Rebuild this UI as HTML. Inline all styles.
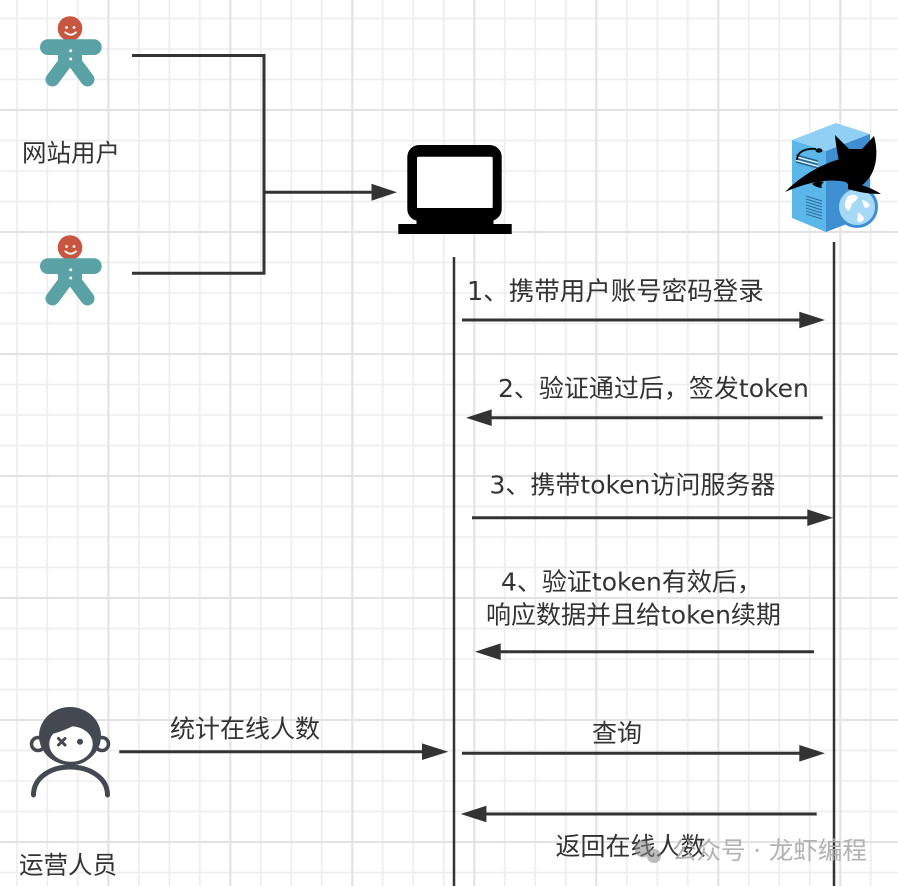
<!DOCTYPE html>
<html><head><meta charset="utf-8">
<style>
html,body{margin:0;padding:0;background:#fff;}
svg{display:block;}
text{font-family:"DejaVu Sans","Noto Sans CJK SC",sans-serif;fill:#333;}
</style></head>
<body>
<svg width="898" height="886" viewBox="0 0 898 886" xmlns="http://www.w3.org/2000/svg">
<defs>
<pattern id="gmin" patternUnits="userSpaceOnUse" x="93.05" y="94.75" width="30.5" height="30.5">
<line x1="15.25" y1="0" x2="15.25" y2="30.5" stroke="#eeeeee" stroke-width="1.8"/>
<line x1="0" y1="15.25" x2="30.5" y2="15.25" stroke="#eeeeee" stroke-width="1.8"/>
</pattern>
<pattern id="gmaj" patternUnits="userSpaceOnUse" x="47.3" y="49" width="122" height="122">
<line x1="61" y1="0" x2="61" y2="122" stroke="#e2e2e2" stroke-width="2"/>
<line x1="0" y1="61" x2="122" y2="61" stroke="#e2e2e2" stroke-width="2"/>
</pattern>
</defs>
<rect width="898" height="886" fill="#fff"/>
<rect width="898" height="886" fill="url(#gmin)"/>
<rect width="898" height="886" fill="url(#gmaj)"/>

<!-- gingerbread users -->
<g id="ginger">
<circle cx="70" cy="28.5" r="12.3" fill="#c8553f"/>
<circle cx="66.5" cy="27.5" r="1.4" fill="#fff"/>
<circle cx="74" cy="27.5" r="1.4" fill="#fff"/>
<path d="M65.3,32.3 Q70.5,37 76,32.3" stroke="#fff" stroke-width="1.8" fill="none" stroke-linecap="round"/>
<rect x="40" y="39.3" width="61.7" height="15.7" rx="7.8" fill="#5ba2a6"/>
<rect x="58" y="44" width="24" height="20" fill="#5ba2a6"/>
<g stroke="#5ba2a6" stroke-width="14" stroke-linecap="round">
<line x1="67" y1="60" x2="52.5" y2="79.5"/>
<line x1="73" y1="60" x2="87.5" y2="79.5"/>
</g>
<circle cx="70.7" cy="50.7" r="1.5" fill="#fff"/>
<circle cx="70.7" cy="59" r="1.5" fill="#fff"/>
</g>
<use href="#ginger" transform="translate(0,219)"/>
<text x="22" y="161.5" font-size="24.5">网站用户</text>

<!-- bracket connector -->
<polyline points="132,55.5 264,55.5 264,273.3 132,273.3" fill="none" stroke="#333" stroke-width="3"/>
<line x1="264" y1="192.3" x2="374" y2="192.3" stroke="#333" stroke-width="3"/>
<polygon points="397,192.3 371.5,183.8 371.5,200.8" fill="#333"/>

<!-- laptop -->
<rect x="407.3" y="145" width="94.4" height="76" rx="12" fill="#000"/>
<rect x="417" y="156.7" width="75.7" height="51.6" rx="1.5" fill="#fff"/>
<rect x="416.5" y="208" width="77" height="17" fill="#000"/>
<rect x="398.3" y="224" width="113.4" height="10" fill="#000"/>

<!-- server icon -->
<polygon points="792,140 836,123 870,134 826,151" fill="#8fd0f4"/>
<polygon points="792,140 826,151 826,232 792,218" fill="#5bb6ea"/>
<polygon points="826,151 870,134 870,215 826,232" fill="#3e8fd2"/>
<g stroke="#2f6f9e" stroke-width="1.1">
<line x1="806" y1="196" x2="822" y2="201"/>
<line x1="806" y1="199" x2="822" y2="204"/>
<line x1="806" y1="202" x2="822" y2="207"/>
<line x1="806" y1="205" x2="822" y2="210"/>
<line x1="806" y1="208" x2="822" y2="213"/>
<line x1="806" y1="211" x2="822" y2="216"/>
<line x1="806" y1="214" x2="822" y2="219"/>
</g>
<g stroke="#2a5a7e" stroke-width="1.3">
<line x1="796" y1="155" x2="818" y2="161"/>
<line x1="796" y1="158.5" x2="818" y2="164.5"/>
<line x1="796" y1="162" x2="818" y2="168"/>
</g>
<g stroke="#ffffff" stroke-width="1">
<line x1="796" y1="156.8" x2="818" y2="162.8"/>
<line x1="796" y1="160.3" x2="818" y2="166.3"/>
</g>
<path d="M797,160 C797,152 805,148 816,149" stroke="#111" stroke-width="2" fill="none"/>
<ellipse cx="819" cy="150.5" rx="3.5" ry="2.2" fill="#111"/>
<circle cx="857" cy="207" r="19.5" fill="#a5d9f6" stroke="#3e8fd2" stroke-width="3"/>
<path d="M848,196 q6,-3 10,1 q-2,5 -6,6 q-1,6 -4,8 q-4,-4 -3,-9 z" fill="#fff"/>
<path d="M862,200 q6,1 8,6 q-3,3 -6,1 z" fill="#fff"/>
<path d="M858,213 q5,1 6,6 q-3,5 -7,2 z" fill="#fff"/>
<!-- cat -->
<path d="M835,135 L849,149 L862,149 L874,136 C878,150 877,165 871,175 C866,183 860,188 855,188 C848,186 843,180 841,172 C839,160 836,148 835,135 Z" fill="#000"/>
<path d="M785,192 C798,179 816,166 840,159 L846,182 C828,178 808,182 785,192 Z" fill="#000"/>
<path d="M848,181 C862,185 872,188 881,194 C868,194 858,192 848,189 Z" fill="#000"/>
<path d="M812,184 q6,-4 12,-2 q-4,3 -2,6 q-5,0 -10,-4 z" fill="#000"/>

<!-- lifelines -->
<line x1="454" y1="257" x2="454" y2="886" stroke="#333" stroke-width="2.5"/>
<line x1="834" y1="242" x2="834" y2="886" stroke="#333" stroke-width="2.5"/>

<!-- messages -->
<text x="467" y="300" font-size="25.5">1、携带用户账号密码登录</text>
<line x1="462" y1="320" x2="801" y2="320" stroke="#333" stroke-width="3"/>
<polygon points="825,320 799.3,311.7 799.3,328.3" fill="#333"/>

<text x="498" y="396.8" font-size="25">2、验证通过后，签发token</text>
<line x1="822.7" y1="417.7" x2="490" y2="417.7" stroke="#333" stroke-width="3"/>
<polygon points="466,417.7 491.7,409.4 491.7,426" fill="#333"/>

<text x="489.5" y="493.5" font-size="25">3、携带token访问服务器</text>
<line x1="472" y1="517.7" x2="809" y2="517.7" stroke="#333" stroke-width="3"/>
<polygon points="833,517.7 807.3,509.4 807.3,526" fill="#333"/>

<text x="501" y="590.5" font-size="25">4、验证token有效后，</text>
<text x="486" y="623.5" font-size="25">响应数据并且给token续期</text>
<line x1="814" y1="651.7" x2="499" y2="651.7" stroke="#333" stroke-width="3"/>
<polygon points="475,651.7 500.7,643.4 500.7,660" fill="#333"/>

<!-- operator -->
<g>
<circle cx="38" cy="744" r="6.5" fill="#fff" stroke="#444951" stroke-width="3.5"/>
<circle cx="102" cy="744" r="6.5" fill="#fff" stroke="#444951" stroke-width="3.5"/>
<ellipse cx="70" cy="736" rx="31" ry="29" fill="#444951"/>
<ellipse cx="71" cy="744" rx="23.5" ry="19.5" fill="#fff" stroke="#444951" stroke-width="3.5"/>
<path d="M47,735 C58,733 72,728 82,720 C86,726 90,730 95,733 L95,722 L47,722 Z" fill="#444951"/>
<g stroke="#444951" stroke-width="3" stroke-linecap="round">
<line x1="58.5" y1="738.5" x2="65" y2="745"/>
<line x1="65" y1="738.5" x2="58.5" y2="745"/>
</g>
<circle cx="80" cy="741.7" r="3" fill="#444951"/>
<path d="M33.5,795 C33.5,778 50,767 70,767 C90,767 107.5,778 107.5,795" stroke="#444951" stroke-width="5" fill="none" stroke-linecap="round"/>
</g>
<text x="19" y="873.5" font-size="24.5">运营人员</text>

<text x="170" y="737.5" font-size="25">统计在线人数</text>
<line x1="119.3" y1="751.7" x2="424" y2="751.7" stroke="#333" stroke-width="3"/>
<polygon points="448.3,751.7 422,743.4 422,760" fill="#333"/>

<text x="592" y="741.8" font-size="25">查询</text>
<line x1="462" y1="753.3" x2="801" y2="753.3" stroke="#333" stroke-width="3"/>
<polygon points="825,753.3 799.3,745 799.3,761.6" fill="#333"/>

<line x1="816.7" y1="814" x2="485" y2="814" stroke="#333" stroke-width="3"/>
<polygon points="460.7,814 486.4,805.7 486.4,822.3" fill="#333"/>
<text x="555.5" y="855" font-size="25">返回在线人数</text>

<!-- watermark -->
<g opacity="0.55">
<circle cx="643" cy="849" r="8.5" fill="#888"/>
<circle cx="654" cy="856" r="7" fill="#888"/>
</g>
<text x="672" y="859" font-size="24.5" style="fill:#aaaaaa" opacity="0.9">公众号 · 龙虾编程</text>
</svg>
</body></html>
